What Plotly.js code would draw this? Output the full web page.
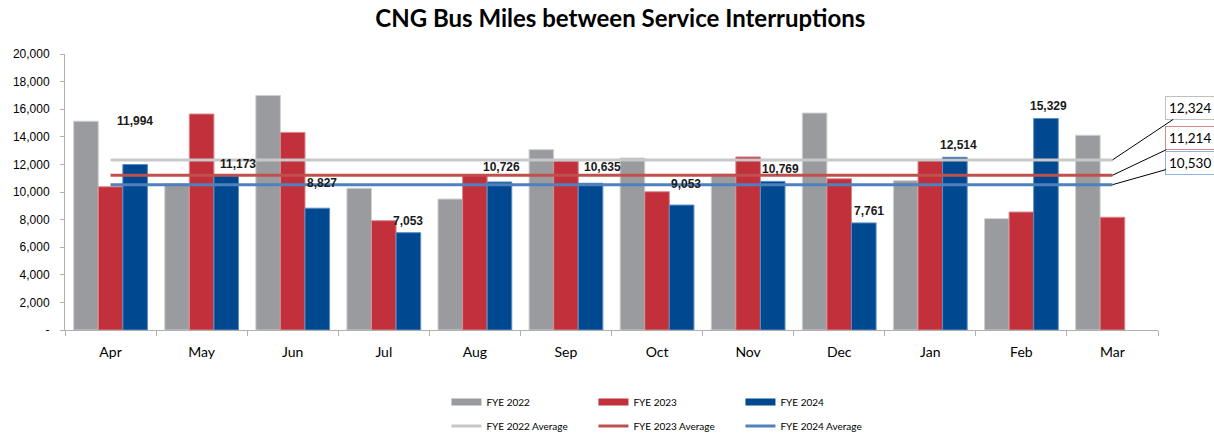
<!DOCTYPE html>
<html>
<head>
<meta charset="utf-8">
<script src="https://cdn.plot.ly/plotly-3.0.1.min.js"></script>
<style>
  html, body { margin: 0; padding: 0; background: #fff; }
  #chart { width: 1214px; height: 436px; }
</style>
</head>
<body>
<div id="chart"></div>
<script>
// Months of the fiscal year
const months = ["Apr", "May", "Jun", "Jul", "Aug", "Sep", "Oct", "Nov", "Dec", "Jan", "Feb", "Mar"];

// Miles between service interruptions
const fye2022 = [15130, 10600, 17000, 10270, 9490, 13070, 12460, 11300, 15720, 10820, 8070, 14110];
const fye2023 = [10380, 15650, 14320, 7920, 11250, 12250, 10020, 12540, 10960, 12280, 8550, 8170];
const fye2024 = [11994, 11173, 8827, 7053, 10726, 10635, 9053, 10769, 7761, 12514, 15329, null];

// Yearly averages
const avg2022 = 12324;
const avg2023 = 11214;
const avg2024 = 10530;

const yTicks = [0, 2000, 4000, 6000, 8000, 10000, 12000, 14000, 16000, 18000, 20000];

const fmt = v => v.toLocaleString("en-US");

const gray = "#9a9b9f";
const red = "#c1303b";
const blue = "#004990";

const bargap = 0.19;
const legendFont = { family: "Lato, Carlito, sans-serif", size: 10, color: "#000" };

const traces = [
    { x: months, y: fye2022, name: "FYE 2022", type: "bar", showlegend: false,
      marker: { color: gray, line: { color: "#d0d0d0", width: 1 } } },
    { x: months, y: fye2023, name: "FYE 2023", type: "bar", showlegend: false,
      marker: { color: red, line: { color: "#d88a8f", width: 1 } } },
    { x: months, y: fye2024, name: "FYE 2024", type: "bar", showlegend: false,
      marker: { color: blue, line: { color: "#5b8cc4", width: 1 } } },
    { x: months, y: months.map(() => avg2022), name: "FYE 2022 Average", type: "scatter", mode: "lines",
      line: { color: "#c8c8c8", width: 3 }, legend: "legend2" },
    { x: months, y: months.map(() => avg2023), name: "FYE 2023 Average", type: "scatter", mode: "lines",
      line: { color: "#c0504d", width: 3 }, legend: "legend2" },
    { x: months, y: months.map(() => avg2024), name: "FYE 2024 Average", type: "scatter", mode: "lines",
      line: { color: "#4f81bd", width: 3 }, legend: "legend2" },
    // wide swatches for the bar series in the legend
    { x: [null], y: [null], name: "FYE 2022", type: "scatter", mode: "lines", line: { color: gray, width: 7 } },
    { x: [null], y: [null], name: "FYE 2023", type: "scatter", mode: "lines", line: { color: red, width: 7 } },
    { x: [null], y: [null], name: "FYE 2024", type: "scatter", mode: "lines", line: { color: blue, width: 7 } }
];

// hand nudges for the FYE 2024 labels (moved clear of the average lines)
const labelNudge = { Apr: [0, 31], May: [12, 0], Jun: [5, 13], Aug: [2, 3], Sep: [12, 4], Oct: [4, 9], Nov: [8, 0], Dec: [5, 0], Jan: [4, 0], Feb: [3, 0] };

// blue bar is the third in each group
const blueOffset = (1 - bargap) / 3;

const annotations = [];
fye2024.forEach((v, i) => {
    if (v == null) return;
    const n = labelNudge[months[i]] || [0, 0];
    annotations.push({
        x: i + blueOffset, y: v, xref: "x", yref: "y",
        text: fmt(v), showarrow: false, yanchor: "bottom",
        xshift: n[0], yshift: 3 + n[1],
        font: { family: "Liberation Sans, Arial", size: 12, color: "#1a1a1a", weight: "bold" }
    });
});

// average call-out boxes on the right
const callouts = [
    { v: avg2022, border: "#bfbfbf", ay: -52 },
    { v: avg2023, border: "#d98a88", ay: -37 },
    { v: avg2024, border: "#8fb3e0", ay: -22 }
];
callouts.forEach(c => {
    annotations.push({
        x: months.length - 1, y: c.v, xref: "x", yref: "y",
        text: fmt(c.v), showarrow: true, arrowhead: 0, arrowwidth: 1, arrowcolor: "#000",
        ax: 78, ay: c.ay, standoff: 0,
        bgcolor: "#fff", bordercolor: c.border, borderwidth: 1, borderpad: 3,
        font: { family: "Lato, Carlito, sans-serif", size: 13.5, color: "#000" }
    });
});

const layout = {
    width: 1214,
    height: 436,
    paper_bgcolor: "#fff",
    plot_bgcolor: "#fff",
    margin: { l: 65, r: 56, t: 54, b: 106, autoexpand: false },
    title: {
        text: "CNG Bus Miles between Service Interruptions",
        x: 0.511, xanchor: "center", y: 0.958, yanchor: "middle",
        font: { family: "Lato, Carlito, sans-serif", size: 24, color: "#000", weight: "bold" }
    },
    barmode: "group",
    bargap: bargap,
    bargroupgap: 0,
    showlegend: true,
    legend: {
        orientation: "h", x: 0.349, xanchor: "left", y: -0.261, yanchor: "middle",
        entrywidth: 102, entrywidthmode: "pixels",
        font: legendFont
    },
    legend2: {
        orientation: "h", x: 0.349, xanchor: "left", y: -0.348, yanchor: "middle",
        entrywidth: 102, entrywidthmode: "pixels",
        font: legendFont
    },
    xaxis: {
        type: "category",
        range: [-0.5, months.length - 0.5],
        showgrid: false,
        showline: true, linecolor: "#b0b0b0", linewidth: 1,
        ticks: "outside", tickson: "boundaries", ticklen: 5, tickcolor: "#b0b0b0",
        ticklabelstandoff: 9,
        tickfont: { family: "Lato, Carlito, sans-serif", size: 14, color: "#000" }
    },
    yaxis: {
        range: [0, 20000],
        showgrid: false, zeroline: false,
        showline: true, linecolor: "#b0b0b0", linewidth: 1,
        ticks: "outside", ticklen: 4, tickcolor: "#b0b0b0",
        ticklabelstandoff: 8,
        tickvals: yTicks,
        ticktext: yTicks.map(v => v === 0 ? "-" : fmt(v)),
        tickfont: { family: "Liberation Sans, Arial", size: 12, color: "#000" }
    },
    annotations: annotations
};

Plotly.newPlot("chart", traces, layout, { displayModeBar: false, responsive: false });
</script>
</body>
</html>
